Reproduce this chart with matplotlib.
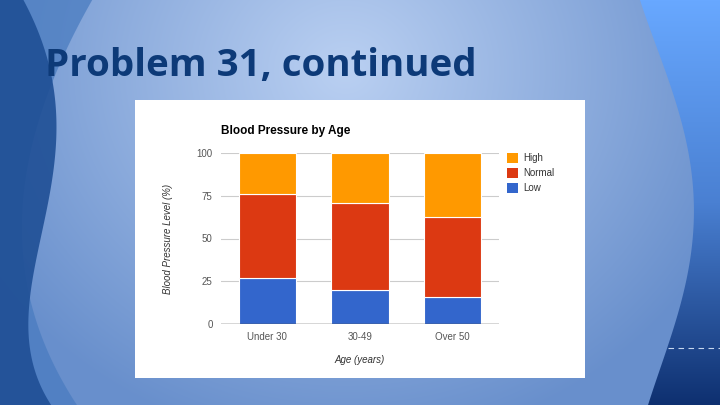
import numpy as np
import matplotlib.pyplot as plt
from matplotlib.patches import Polygon, Rectangle

# data
age_groups = ['Under 30', '30-49', 'Over 50']
low = [27, 20, 15.6]
normal = [49, 51, 47]
high = [24, 29, 37.4]
y_ticks = [0, 25, 50, 75, 100]

c_low = '#3366CC'
c_normal = '#DC3912'
c_high = '#FF9900'

W, H = 720, 405
fig = plt.figure(figsize=(7.2, 4.05), dpi=100)

# ------------------------------------------------------------
# slide background
# ------------------------------------------------------------
bg = fig.add_axes([0, 0, 1, 1])
bg.set_zorder(0)
bg.set_xlim(0, W)
bg.set_ylim(H, 0)
bg.axis('off')

yy, xx = np.mgrid[0:H, 0:W]
d = np.sqrt(((xx - 345) / 420.0) ** 2 + ((yy - 70) / 380.0) ** 2)
d = np.clip(d, 0, 1)[..., None]
light = np.array([186, 208, 242]) / 255.0
dark = np.array([104, 143, 204]) / 255.0
img = light * (1 - d) + dark * d
bg.imshow(img, extent=(0, W, H, 0), aspect='auto', zorder=0)


def smooth_curve(pts, n=200, deg=4):
    pts = np.array(pts, dtype=float)
    coef = np.polyfit(pts[:, 1], pts[:, 0], deg)
    ys = np.linspace(0, H, n)
    return np.polyval(coef, ys), ys


# left wave shapes
xs, ys = smooth_curve([(92, 0), (58, 70), (30, 150), (22, 230), (34, 310), (60, 380), (78, 405)])
bg.add_patch(Polygon(np.column_stack([np.r_[0, xs, 0], np.r_[0, ys, H]]),
                     closed=True, color='#4a7cc0', alpha=0.75, lw=0, zorder=1))
xs, ys = smooth_curve([(24, 0), (46, 60), (58, 140), (45, 220), (28, 290), (35, 360), (50, 405)])
bg.add_patch(Polygon(np.column_stack([np.r_[0, xs, 0], np.r_[0, ys, H]]),
                     closed=True, color='#1f4f95', alpha=0.9, lw=0, zorder=2))

# right side panel
xs, ys = smooth_curve([(640, 0), (675, 100), (694, 200), (688, 270), (670, 340), (648, 405)])
right = Polygon(np.column_stack([np.r_[W, xs, W], np.r_[0, ys, H]]), closed=True,
                facecolor='none', lw=0)
bg.add_patch(right)
t = np.linspace(0, 1, H)[:, None, None]
top_c = np.array([104, 168, 255]) / 255.0
mid_c = np.array([74, 128, 210]) / 255.0
bot_c = np.array([14, 48, 112]) / 255.0
grad = np.where(t < 0.5, top_c * (1 - 2 * t) + mid_c * 2 * t,
                mid_c * (2 - 2 * t) + bot_c * (2 * t - 1))
grad = np.repeat(grad, 10, axis=1)
gim = bg.imshow(grad, extent=(600, W, H, 0), aspect='auto', zorder=3)
gim.set_clip_path(right)
bg.plot([668, W], [348, 348], color='#c8d8f0', lw=0.8, ls=(0, (5, 4)), zorder=4)
bg.set_xlim(0, W)
bg.set_ylim(H, 0)

# slide title
fig.text(45 / W, 1 - 76 / H, 'Problem 31, continued', fontsize=27.7, fontweight='bold',
         family='Open Sans', color='#0d3a78', va='baseline', ha='left')

# white chart card
card = fig.add_axes([135 / W, 1 - 378 / H, 450 / W, 278 / H])
card.set_zorder(1)
card.add_patch(Rectangle((0, 0), 1, 1, transform=card.transAxes, facecolor='white', lw=0))
card.axis('off')

# ------------------------------------------------------------
# stacked bar chart
# ------------------------------------------------------------
ax = fig.add_axes([221 / W, 1 - 324 / H, 278 / W, 171 / H])
ax.set_zorder(2)
ax.set_facecolor('white')
x = np.arange(len(age_groups))
bw = 0.62
bot2 = np.array(low) + np.array(normal)
b1 = ax.bar(x, low, bw, color=c_low, edgecolor='white', linewidth=0.8, label='Low', zorder=3)
b2 = ax.bar(x, normal, bw, bottom=low, color=c_normal, edgecolor='white', linewidth=0.8,
            label='Normal', zorder=3)
b3 = ax.bar(x, high, bw, bottom=bot2, color=c_high, edgecolor='white', linewidth=0.8,
            label='High', zorder=3)

ax.set_xlim(-0.5, 2.5)
ax.set_ylim(0, 100)
ax.set_yticks(y_ticks)
ax.set_yticklabels([str(v) for v in y_ticks])
ax.set_xticks(x)
ax.set_xticklabels(age_groups)
for v in y_ticks[1:]:
    ax.axhline(v, color='#cccccc', lw=0.8, zorder=1)
ax.axhline(0, color='#333333', lw=1.0, zorder=4)
for s in ax.spines.values():
    s.set_visible(False)
ax.tick_params(length=0, labelsize=7, labelcolor='#555555', pad=6)
for lab in ax.get_xticklabels() + ax.get_yticklabels():
    lab.set_family('Liberation Sans')

ax.set_title('Blood Pressure by Age', loc='left', fontsize=8.5, fontweight='bold',
             family='Liberation Sans', pad=14)
ax.set_xlabel('Age (years)', fontsize=7, style='italic', color='#333333',
              family='Liberation Sans', labelpad=9)
ax.set_ylabel('Blood Pressure Level (%)', fontsize=7, style='italic', color='#333333',
              family='Liberation Sans', labelpad=17)

leg = ax.legend(handles=[b3, b2, b1], loc='upper left', bbox_to_anchor=(0.997, 1.05),
                frameon=False, handlelength=1.15, handleheight=1.15,
                handletextpad=0.5, labelspacing=0.5, prop={'family': 'Liberation Sans', 'size': 7})
for txt in leg.get_texts():
    txt.set_color('#333333')
for hnd in leg.legend_handles:
    hnd.set_edgecolor('none')

fig.savefig('out.png', dpi=100)
